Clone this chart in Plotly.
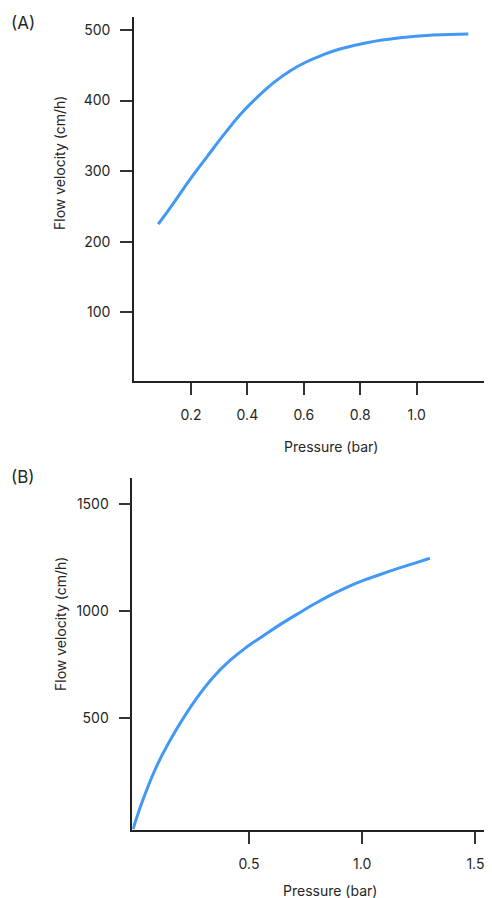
import plotly.graph_objects as go

# Panel A data
pressure_a = [0.084, 0.137, 0.196, 0.256, 0.315, 0.374, 0.433, 0.492, 0.551, 0.610,
              0.669, 0.728, 0.823, 0.941, 1.059, 1.183]
velocity_a = [225, 254, 288, 320, 351, 380, 404, 425, 442, 455,
              465, 473, 482, 489, 493, 494.5]

# Panel B data
pressure_b = [-0.012, 0.036, 0.099, 0.181, 0.269, 0.342, 0.416, 0.490, 0.563, 0.637,
              0.711, 0.784, 0.858, 0.932, 1.005, 1.079, 1.152, 1.226, 1.299]
velocity_b = [-22, 128, 288, 448, 592, 690, 768, 831, 884, 936,
              984, 1030, 1073, 1111, 1143, 1171, 1197, 1222, 1247]

xticks_a = [0.2, 0.4, 0.6, 0.8, 1.0]
xticklabels_a = ["0.2", "0.4", "0.6", "0.8", "1.0"]
yticks_a = [100, 200, 300, 400, 500]
xticks_b = [0.5, 1.0, 1.5]
xticklabels_b = ["0.5", "1.0", "1.5"]
yticks_b = [500, 1000, 1500]

# page body has an 8px margin; figure is sized/positioned to compensate
OFF = 8
W, H = 492 - OFF, 898 - OFF
LINE = "#4298f5"
TXT = "#262626"
FONT = "Inter"


def px(x):
    return (x - OFF) / W


def py(y):
    return 1 - (y - OFF) / H


fig = go.Figure()
fig.add_trace(go.Scatter(x=pressure_a, y=velocity_a, mode="lines",
                         line=dict(color=LINE, width=3, shape="spline", smoothing=1.3),
                         xaxis="x", yaxis="y", showlegend=False))
fig.add_trace(go.Scatter(x=pressure_b, y=velocity_b, mode="lines",
                         line=dict(color=LINE, width=3, shape="spline", smoothing=1.3),
                         xaxis="x2", yaxis="y2", showlegend=False))

axis_common = dict(showline=True, linecolor="#222222", linewidth=1.5,
                   ticks="outside", ticklen=12, tickwidth=1.5, tickcolor="#333333",
                   showgrid=False, zeroline=False, mirror=False,
                   tickfont=dict(family=FONT, size=14, color=TXT))

fig.update_layout(
    width=W, height=H,
    margin=dict(l=0, r=0, t=0, b=0),
    paper_bgcolor="white", plot_bgcolor="white",
    font=dict(family=FONT, size=14, color=TXT),
    xaxis=dict(domain=[px(134), px(490)], range=[-0.002, 1.260], anchor="y",
               tickvals=xticks_a, ticktext=xticklabels_a, ticklabelstandoff=8, **axis_common),
    yaxis=dict(domain=[py(381), py(17.3)], range=[2.7, 518], anchor="x",
               tickvals=yticks_a, ticklabelstandoff=7, **axis_common),
    xaxis2=dict(domain=[px(132.3), px(490)], range=[-0.0155, 1.5645], anchor="y2",
                tickvals=xticks_b, ticktext=xticklabels_b, ticklabelstandoff=8, **axis_common),
    yaxis2=dict(domain=[py(830), py(478)], range=[-26.2, 1623], anchor="x2",
                tickvals=yticks_b, ticklabelstandoff=7, **axis_common),
)

ann = [
    dict(text="(A)", x=px(8.5), y=py(22.7), xanchor="left", yanchor="middle", size=17),
    dict(text="(B)", x=px(8.5), y=py(477.3), xanchor="left", yanchor="middle", size=17),
    dict(text="Pressure (bar)", x=px(330.5), y=py(446.7), xanchor="center", yanchor="middle", size=14),
    dict(text="Pressure (bar)", x=px(330), y=py(890), xanchor="center", yanchor="middle", size=14),
    dict(text="Flow velocity (cm/h)", x=px(60), y=py(163), xanchor="center", yanchor="middle",
         textangle=-90, size=14),
    dict(text="Flow velocity (cm/h)", x=px(60), y=py(624), xanchor="center", yanchor="middle",
         textangle=-90, size=14),
]
annotations = []
for a in ann:
    size = a.pop("size")
    a.update(xref="paper", yref="paper", showarrow=False,
             font=dict(family=FONT, size=size, color=TXT))
    annotations.append(a)
fig.update_layout(annotations=annotations)

fig.write_html("out.html")
